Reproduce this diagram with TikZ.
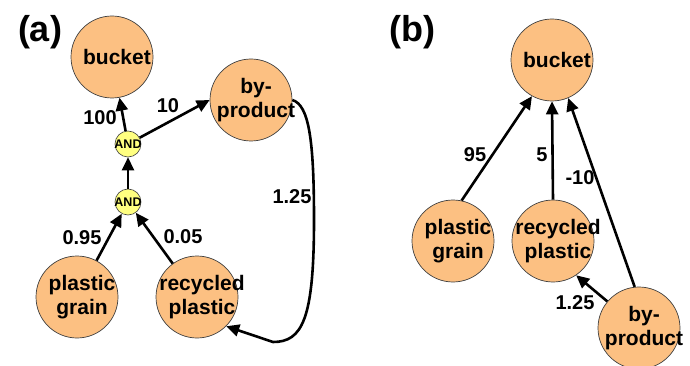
\documentclass[tikz,border=0pt]{standalone}
\usepackage{fontspec}
\setmainfont{Liberation Sans}
\usetikzlibrary{arrows.meta}
\definecolor{peach}{RGB}{252,192,130}
\definecolor{andyel}{RGB}{255,255,128}
\begin{document}
\begin{tikzpicture}[x=1pt,y=-1pt,
  proc/.style={circle,draw=black!75,line width=0.7pt,fill=peach,minimum size=82pt,inner sep=0pt},
  gate/.style={circle,draw=black!75,line width=0.6pt,fill=andyel,minimum size=26pt,inner sep=0pt},
  txt/.style={font=\bfseries\fontsize{21}{24.5}\selectfont,align=center,inner sep=0pt,xshift=5pt},
  gtxt/.style={font=\bfseries\fontsize{12.5}{13}\selectfont,inner sep=0pt},
  num/.style={font=\bfseries\fontsize{20}{23}\selectfont,inner sep=0pt},
  panel/.style={font=\bfseries\fontsize{36}{40}\selectfont,inner sep=0pt},
  arr/.style={line width=2.6pt,-{Triangle[length=13pt,width=12pt]}},
]
\useasboundingbox (0,0) rectangle (690,366);
% ---------- panel (a)
\node[panel] (pa) at (40,32) {(a)};
\node[proc,label={[txt]center:bucket}] (ab) at (112,57) {};
\node[proc,label={[txt]center:by-\\product}] (abp) at (251,100) {};
\node[gate,label={[gtxt]center:AND}] (and1) at (128,144) {};
\node[gate,label={[gtxt]center:AND}] (and2) at (128,202) {};
\node[proc,label={[txt]center:plastic\\grain}] (apg) at (77,297) {};
\node[proc,label={[txt]center:recycled\\plastic}] (arp) at (197,297) {};
\draw[arr] (and1) -- (ab);
\draw[arr] (and1) -- (abp.west);
\draw[arr] (and2) -- (and1);
\draw[arr] (apg) -- (and2);
\draw[arr] (arp) -- (and2);
\coordinate (ac1) at (314,220);
\coordinate (ac2) at (273,342);
\draw[arr] (abp.east) .. controls (309,105) and (314,140) .. (ac1)
  .. controls (314,320) and (302,342) .. (ac2) -- (arp.-45);
\node[num] (l100) at (100,118) {100};
\node[num] (l10) at (168,106) {10};
\node[num] (l095) at (82,238) {0.95};
\node[num] (l005) at (183,237) {0.05};
\node[num] (l125a) at (292,197) {1.25};
% ---------- panel (b)
\node[panel] (pb) at (412,32) {(b)};
\node[proc,label={[txt]center:bucket}] (bb) at (552,60) {};
\node[proc,label={[txt]center:plastic\\grain}] (bpg) at (453,241) {};
\node[proc,label={[txt]center:recycled\\plastic}] (brp) at (553,241) {};
\node[proc,label={[txt]center:by-\\product}] (bbp) at (639,328) {};
\draw[arr] (bpg.78) -- (bb.241);
\draw[arr] (brp.90) -- (bb.270);
\draw[arr] (bbp.96) -- (bb.293);
\draw[arr] (bbp.140) -- (brp.304);
\node[num] (l95) at (475,155) {95};
\node[num] (l5) at (542,155) {5};
\node[num] (lm10) at (580,178) {-10};
\node[num] (l125b) at (575,303) {1.25};
\end{tikzpicture}
\end{document}
